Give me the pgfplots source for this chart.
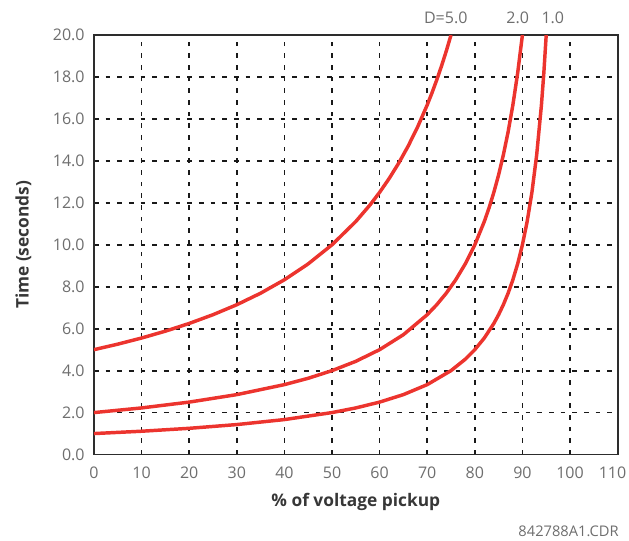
\documentclass[border=0pt]{standalone}
\usepackage{pgfplots}
\pgfplotsset{compat=1.18}
\usepackage{fontspec}
\setmainfont{Open Sans}
\definecolor{curvered}{RGB}{236,52,46}
\definecolor{ticklab}{RGB}{110,110,110}
\definecolor{labdark}{RGB}{55,55,55}
\definecolor{frame}{RGB}{45,45,45}
\begin{document}
\begin{tikzpicture}
\path[use as bounding box] (-70.5pt,-64.1pt) rectangle (401.25pt,340.9pt);
\begin{axis}[
  at={(0,0)}, anchor=south west,
  scale only axis, width=392.7pt, height=314.6pt,
  xmin=0, xmax=110, ymin=0, ymax=20,
  xtick={0,10,...,100}, ytick={0,2,...,20},
  extra x ticks={110},
  extra x tick style={grid=none, xticklabel style={xshift=-3.8pt}},
  major tick length=0pt,
  /pgf/number format/assume math mode=true,
  yticklabel style={/pgf/number format/fixed,/pgf/number format/precision=1,/pgf/number format/fixed zerofill, xshift=-3.5pt},
  xticklabel style={yshift=-5.4pt},
  ticklabel style={font=\fontsize{12}{14}\selectfont, text=ticklab},
  grid=major,
  major grid style={black!90, line width=1.3pt, dash pattern=on 3.5pt off 5.25pt},
  axis line style={frame, line width=1.4pt},
  xlabel={\% of voltage pickup},
  ylabel={Time (seconds)},
  label style={font=\fontsize{13}{15}\selectfont\bfseries, text=labdark},
  xlabel style={at={(axis description cs:0.5,0)}, anchor=center, yshift=-35.6pt},
  ylabel style={at={(axis description cs:0,0.5)}, anchor=center, yshift=52.9pt},
  clip mode=individual,
]
% D = 5.0
\addplot[curvered, line width=2.6pt, line join=round] coordinates {
(0,5.000) (5,5.263) (10,5.556) (15,5.882) (20,6.250) (25,6.667) (30,7.143)
(35,7.692) (40,8.333) (45,9.091) (50,10.000) (55,11.111) (58,11.905) (60,12.500)
(62,13.158) (64,13.889) (66,14.706) (68,15.625) (70,16.667) (71,17.241)
(72,17.857) (73,18.519) (74,19.231) (75,20.000)};
% D = 2.0
\addplot[curvered, line width=2.6pt, line join=round] coordinates {
(0,2.000) (10,2.222) (20,2.500) (30,2.857) (40,3.333) (45,3.636) (50,4.000)
(55,4.444) (60,5.000) (65,5.714) (70,6.667) (72,7.143) (74,7.692) (76,8.333)
(78,9.091) (80,10.000) (82,11.111) (83,11.765) (84,12.500) (85,13.333)
(86,14.286) (87,15.385) (88,16.667) (89,18.182) (90,20.000)};
% D = 1.0
\addplot[curvered, line width=2.6pt, line join=round] coordinates {
(0,1.000) (10,1.111) (20,1.250) (30,1.429) (40,1.667) (50,2.000) (55,2.222)
(60,2.500) (65,2.857) (70,3.333) (75,4.000) (78,4.545) (80,5.000) (82,5.556)
(84,6.250) (85,6.667) (86,7.143) (87,7.692) (88,8.333) (89,9.091) (90,10.000)
(91,11.111) (92,12.500) (93,14.286) (94,16.667) (94.5,18.182) (95,20.000)};
\node[text=ticklab, font=\fontsize{12}{14}\selectfont, anchor=center, yshift=12.75pt] at (axis cs:73.9,20) {D=5.0};
\node[text=ticklab, font=\fontsize{12}{14}\selectfont, anchor=center, yshift=12.75pt] at (axis cs:89.0,20) {2.0};
\node[text=ticklab, font=\fontsize{12}{14}\selectfont, anchor=center, yshift=12.75pt] at (axis cs:96.4,20) {1.0};
\node[text=ticklab, font=\fontsize{11}{13}\selectfont, anchor=east, inner sep=0pt, xshift=1pt, yshift=-57.9pt] at (rel axis cs:1,0) {842788A1.CDR};
\end{axis}
\end{tikzpicture}
\end{document}
